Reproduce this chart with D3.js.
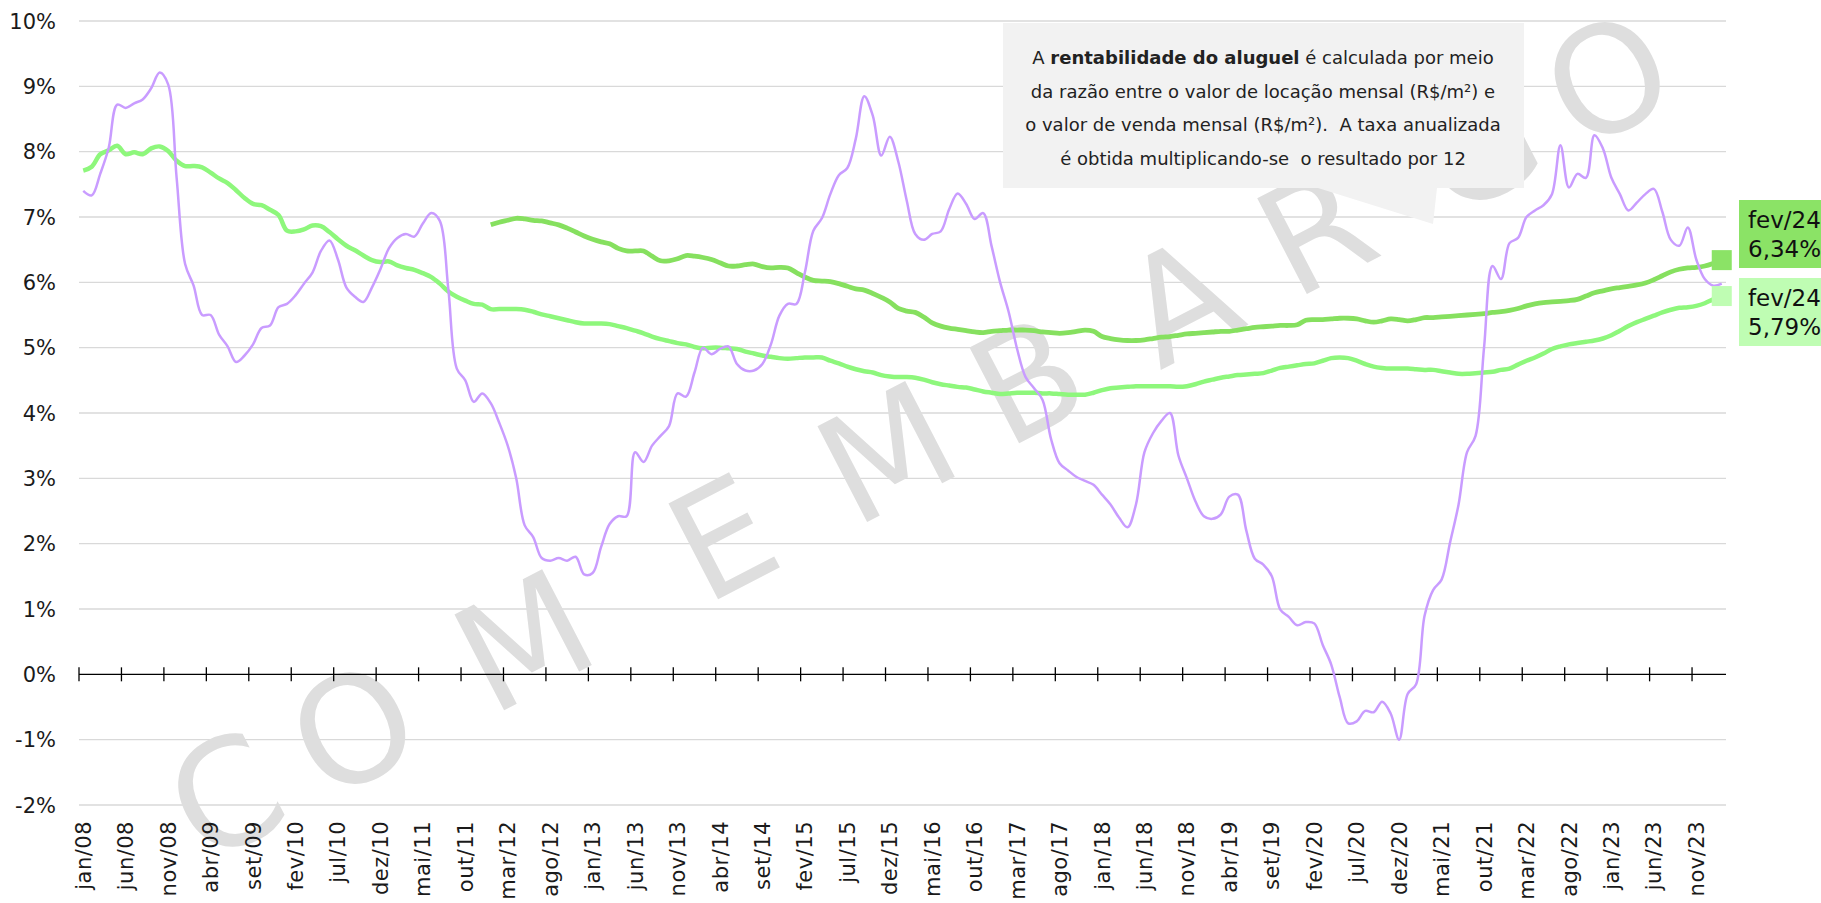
<!DOCTYPE html>
<html>
<head>
<meta charset="utf-8">
<script src="https://cdn.jsdelivr.net/npm/d3@7"></script>
<style>
html, body { margin: 0; padding: 0; background: #fff; overflow: hidden; }
svg { display: block; font-family: "DejaVu Sans", sans-serif; }
</style>
</head>
<body>
<svg id="chart" width="1821" height="903"></svg>
<script>
// month categories, jan/08 .. fev/24
const monthNames = ['jan','fev','mar','abr','mai','jun','jul','ago','set','out','nov','dez'];
const firstYear = 2008;
const monthCount = 194;
const months = d3.range(monthCount).map(i => monthNames[i % 12] + '/' + String(firstYear + Math.floor(i / 12)).slice(2));

const yTicks = [-2, -1, 0, 1, 2, 3, 4, 5, 6, 7, 8, 9, 10];

// purple series (jan/08 .. fev/24)
const purple = [
  7.40, 7.33, 7.66, 8.06, 8.72, 8.67, 8.74, 8.80, 8.97, 9.21,
  9.03, 7.60, 6.28, 5.95, 5.50, 5.50, 5.20, 5.02, 4.78, 4.88,
  5.05, 5.30, 5.34, 5.62, 5.67, 5.80, 5.98, 6.15, 6.48, 6.64,
  6.35, 5.92, 5.78, 5.70, 5.92, 6.20, 6.52, 6.68, 6.74, 6.70,
  6.90, 7.06, 6.94, 5.90, 4.68, 4.50, 4.17, 4.30, 4.15, 3.85,
  3.50, 3.00, 2.28, 2.10, 1.78, 1.74, 1.78, 1.74, 1.80, 1.53,
  1.55, 1.95, 2.30, 2.42, 2.42, 3.40, 3.25, 3.50, 3.65, 3.80,
  4.30, 4.25, 4.62, 5.00, 4.90, 4.98, 5.02, 4.75, 4.65, 4.65,
  4.75, 5.05, 5.49, 5.67, 5.67, 6.15, 6.79, 6.98, 7.35, 7.64,
  7.75, 8.20, 8.85, 8.55, 7.94, 8.23, 7.85, 7.25, 6.74, 6.65,
  6.74, 6.78, 7.12, 7.36, 7.20, 6.97, 7.06, 6.55, 6.00, 5.55,
  4.98, 4.55, 4.38, 4.20, 3.60, 3.23, 3.12, 3.02, 2.96, 2.90,
  2.75, 2.60, 2.40, 2.25, 2.60, 3.40, 3.69, 3.88, 4.00, 3.35,
  3.00, 2.65, 2.42, 2.38, 2.45, 2.72, 2.75, 2.20, 1.77, 1.68,
  1.50, 0.99, 0.88, 0.75, 0.80, 0.78, 0.45, 0.15, -0.35, -0.75,
  -0.72, -0.56, -0.58, -0.42, -0.60, -1.00, -0.30, -0.15, 0.90, 1.29,
  1.45, 2.02, 2.60, 3.40, 3.65, 5.00, 6.25, 6.05, 6.60, 6.68,
  7.00, 7.10, 7.18, 7.35, 8.10, 7.45, 7.66, 7.60, 8.25, 8.05,
  7.60, 7.35, 7.10, 7.22, 7.35, 7.43, 7.08, 6.65, 6.56, 6.84,
  6.35, 6.05, 5.95, 5.98
];

// light green series (jan/08 .. fev/24)
const lightGreen = [
  7.71, 7.77, 7.96, 8.02, 8.09, 7.96, 7.99, 7.96, 8.05, 8.08,
  8.01, 7.86, 7.78, 7.78, 7.76, 7.68, 7.59, 7.52, 7.41, 7.29,
  7.20, 7.18, 7.11, 7.03, 6.79, 6.78, 6.81, 6.87, 6.86, 6.77,
  6.66, 6.56, 6.49, 6.41, 6.34, 6.31, 6.32, 6.26, 6.22, 6.19,
  6.14, 6.08, 5.98, 5.86, 5.78, 5.72, 5.67, 5.66, 5.59, 5.59,
  5.59, 5.59, 5.58, 5.55, 5.51, 5.48, 5.45, 5.42, 5.39, 5.37,
  5.37, 5.37, 5.36, 5.33, 5.30, 5.26, 5.22, 5.17, 5.13, 5.10,
  5.07, 5.05, 5.01, 4.99, 5.00, 5.00, 4.99, 4.98, 4.94, 4.91,
  4.88, 4.86, 4.84, 4.83, 4.84, 4.85, 4.85, 4.85, 4.80, 4.76,
  4.71, 4.67, 4.64, 4.62, 4.58, 4.56, 4.55, 4.55, 4.54, 4.51,
  4.47, 4.44, 4.42, 4.40, 4.39, 4.36, 4.33, 4.31, 4.29, 4.30,
  4.31, 4.31, 4.31, 4.30, 4.30, 4.29, 4.28, 4.28, 4.28, 4.31,
  4.35, 4.38, 4.39, 4.40, 4.41, 4.41, 4.41, 4.41, 4.41, 4.40,
  4.41, 4.44, 4.48, 4.51, 4.54, 4.56, 4.58, 4.59, 4.60, 4.61,
  4.65, 4.69, 4.71, 4.73, 4.75, 4.76, 4.80, 4.84, 4.85, 4.84,
  4.80, 4.75, 4.71, 4.69, 4.68, 4.68, 4.68, 4.67, 4.66, 4.66,
  4.64, 4.62, 4.60, 4.60, 4.61, 4.62, 4.63, 4.66, 4.68, 4.74,
  4.80, 4.85, 4.91, 4.98, 5.02, 5.05, 5.07, 5.09, 5.11, 5.14,
  5.19, 5.26, 5.33, 5.39, 5.44, 5.49, 5.54, 5.58, 5.61, 5.62,
  5.64, 5.68, 5.74, 5.79
];

// dark green series starts at jan/12
const darkGreenStart = 'jan/12';
const darkGreen = [
  6.88, 6.92, 6.95, 6.98, 6.97, 6.95, 6.94, 6.91, 6.88, 6.83,
  6.77, 6.71, 6.66, 6.62, 6.59, 6.52, 6.48, 6.48, 6.48, 6.40,
  6.33, 6.33, 6.36, 6.41, 6.40, 6.38, 6.35, 6.30, 6.25, 6.25,
  6.27, 6.28, 6.24, 6.22, 6.23, 6.22, 6.15, 6.08, 6.03, 6.02,
  6.01, 5.98, 5.94, 5.90, 5.88, 5.83, 5.77, 5.70, 5.60, 5.56,
  5.54, 5.47, 5.38, 5.33, 5.30, 5.28, 5.26, 5.24, 5.23, 5.25,
  5.26, 5.27, 5.27, 5.27, 5.26, 5.24, 5.23, 5.22, 5.23, 5.25,
  5.27, 5.25, 5.17, 5.14, 5.12, 5.11, 5.11, 5.12, 5.14, 5.16,
  5.17, 5.19, 5.21, 5.22, 5.23, 5.24, 5.25, 5.25, 5.27, 5.29,
  5.31, 5.32, 5.33, 5.34, 5.34, 5.35, 5.42, 5.43, 5.43, 5.44,
  5.45, 5.45, 5.44, 5.41, 5.39, 5.41, 5.44, 5.43, 5.41, 5.43,
  5.46, 5.46, 5.47, 5.48, 5.49, 5.50, 5.51, 5.52, 5.54, 5.55,
  5.57, 5.60, 5.64, 5.67, 5.69, 5.70, 5.71, 5.72, 5.74, 5.79,
  5.84, 5.87, 5.90, 5.92, 5.94, 5.96, 5.99, 6.04, 6.10, 6.16,
  6.20, 6.22, 6.23, 6.25, 6.29, 6.34
];

const noteLines = [
  [['A ', false], ['rentabilidade do aluguel', true], [' é calculada por meio', false]],
  [['da razão entre o valor de locação mensal (R$/m²) e', false]],
  [['o valor de venda mensal (R$/m²).  A taxa anualizada', false]],
  [['é obtida multiplicando-se  o resultado por 12', false]]
];

// watermark letters and their offsets along the slanted line
const stampLetters = ['C', 'O', 'M', 'E', 'M', 'B', 'A', 'R', 'G', 'O'];
const stampSteps = [0, 144, 336, 560, 745, 903, 1076, 1228, 1411, 1557];

const purpleColor = '#c99cff', lightColor = '#8ef77c', darkColor = '#86e05f';
const lightBox = '#bffdb3', darkBox = '#8be366';

const svg = d3.select('#chart');

const x = d3.scaleBand().domain(months).range([79, 1726]).padding(0);
const xc = d => x(d) + x.bandwidth() / 2;
const y = d3.scaleLinear().domain([-2, 10]).range([805, 21]);

// gridlines
svg.append('g').selectAll('line').data(yTicks.filter(d => d !== 0)).join('line')
  .attr('x1', 79).attr('x2', 1726)
  .attr('y1', d => y(d)).attr('y2', d => y(d))
  .attr('stroke', '#d9d9d9').attr('stroke-width', 1.3);

// watermark
const ang = -27.4 * Math.PI / 180;
svg.append('g').selectAll('text').data(stampLetters).join('text')
  .attr('transform', (d, i) => `translate(${225 + stampSteps[i] * Math.cos(ang)},${795 + stampSteps[i] * Math.sin(ang)}) rotate(-27.4)`)
  .attr('text-anchor', 'middle').attr('dy', '0.36em')
  .style('font-size', '148px').attr('fill', '#dedede')
  .text(d => d);

// y labels
svg.append('g').selectAll('text').data(yTicks).join('text')
  .attr('x', 56).attr('y', d => y(d)).attr('dy', '0.36em')
  .attr('text-anchor', 'end').style('font-size', '21px').attr('fill', '#1a1a1a')
  .text(d => d + '%');

// zero axis with crossing ticks
const tickMonths = months.filter((d, i) => i % 5 === 0);
const ax = svg.append('g');
ax.append('line').attr('x1', 79).attr('x2', 1726).attr('y1', y(0)).attr('y2', y(0))
  .attr('stroke', '#000').attr('stroke-width', 1.3);
ax.selectAll('line.tk').data(tickMonths).join('line').attr('class', 'tk')
  .attr('x1', d => x(d)).attr('x2', d => x(d))
  .attr('y1', y(0) - 7).attr('y2', y(0) + 7)
  .attr('stroke', '#000').attr('stroke-width', 1.3);

// x labels
svg.append('g').selectAll('text').data(tickMonths).join('text')
  .attr('transform', d => `translate(${xc(d)},821) rotate(-90)`)
  .attr('text-anchor', 'end').attr('dy', '0.36em')
  .style('font-size', '21px').style('letter-spacing', '0.5px').attr('fill', '#1a1a1a')
  .text(d => d);

// lines
const line = d3.line().x(d => xc(d.m)).y(d => y(d.v)).curve(d3.curveCatmullRom.alpha(0.5));
const s0 = months.indexOf(darkGreenStart);
const lightData = lightGreen.map((v, i) => ({ m: months[i], v }));
const darkData = darkGreen.map((v, i) => ({ m: months[s0 + i], v }));
const purpleData = purple.map((v, i) => ({ m: months[i], v }));

svg.append('path').datum(lightData).attr('d', line)
  .attr('fill', 'none').attr('stroke', lightColor).attr('stroke-width', 4.5).attr('stroke-linejoin', 'round');
svg.append('path').datum(darkData).attr('d', line)
  .attr('fill', 'none').attr('stroke', darkColor).attr('stroke-width', 4.8).attr('stroke-linejoin', 'round');
svg.append('path').datum(purpleData).attr('d', line)
  .attr('fill', 'none').attr('stroke', purpleColor).attr('stroke-width', 2.5).attr('stroke-linejoin', 'round');

// note box with pointer
const note = svg.append('g');
note.append('path').attr('d', 'M1003,23H1524V188H1437L1433,224L1318,188H1003Z').attr('fill', '#f2f2f2');
const nt = note.append('text').attr('text-anchor', 'middle').style('font-size', '18px')
  .style('white-space', 'pre').attr('fill', '#222');
noteLines.forEach((parts, li) => {
  parts.forEach((p, pi) => {
    const ts = nt.append('tspan').text(p[0]).style('font-weight', p[1] ? 'bold' : 'normal');
    if (pi === 0) ts.attr('x', 1263).attr('y', 64 + li * 33.6);
  });
});

// end markers and labels
const last = months[monthCount - 1];
const ends = [
  { v: darkGreen[darkGreen.length - 1], fill: darkBox, top: 200 },
  { v: lightGreen[lightGreen.length - 1], fill: lightBox, top: 278 }
];
ends.forEach(e => {
  svg.append('rect').attr('x', xc(last) - 10).attr('y', y(e.v) - 10).attr('width', 20).attr('height', 20).attr('fill', e.fill);
  svg.append('rect').attr('x', 1739).attr('y', e.top).attr('width', 90).attr('height', 68).attr('fill', e.fill);
  const t = svg.append('text').style('font-size', '23px').attr('fill', '#111');
  t.append('tspan').attr('x', 1748).attr('y', e.top + 28).text(last);
  t.append('tspan').attr('x', 1748).attr('y', e.top + 57).text(e.v.toFixed(2).replace('.', ',') + '%');
});
</script>
</body>
</html>
